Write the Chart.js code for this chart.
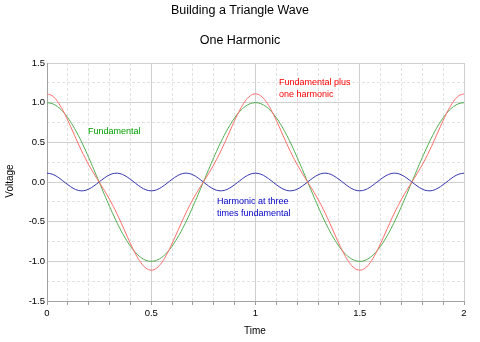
<!DOCTYPE html>
<html>
<head>
<meta charset="utf-8">
<script src="https://cdn.jsdelivr.net/npm/chart.js@4/dist/chart.umd.min.js"></script>
<style>
  html, body { margin: 0; padding: 0; background: #fff; }
  #wrap { width: 480px; height: 342px; }
</style>
</head>
<body>
<div id="wrap"><canvas id="chart" width="480" height="342"></canvas></div>
<script>
// --- données (pas de 0.025) ---
const times = [
  0, 0.025, 0.05, 0.075, 0.1, 0.125, 0.15, 0.175, 0.2, 0.225,
  0.25, 0.275, 0.3, 0.325, 0.35, 0.375, 0.4, 0.425, 0.45, 0.475,
  0.5, 0.525, 0.55, 0.575, 0.6, 0.625, 0.65, 0.675, 0.7, 0.725,
  0.75, 0.775, 0.8, 0.825, 0.85, 0.875, 0.9, 0.925, 0.95, 0.975,
  1, 1.025, 1.05, 1.075, 1.1, 1.125, 1.15, 1.175, 1.2, 1.225,
  1.25, 1.275, 1.3, 1.325, 1.35, 1.375, 1.4, 1.425, 1.45, 1.475,
  1.5, 1.525, 1.55, 1.575, 1.6, 1.625, 1.65, 1.675, 1.7, 1.725,
  1.75, 1.775, 1.8, 1.825, 1.85, 1.875, 1.9, 1.925, 1.95, 1.975, 2
];

const fundamental = [
  1, 0.988, 0.951, 0.891, 0.809, 0.707, 0.588, 0.454, 0.309, 0.156,
  0, -0.156, -0.309, -0.454, -0.588, -0.707, -0.809, -0.891, -0.951, -0.988,
  -1, -0.988, -0.951, -0.891, -0.809, -0.707, -0.588, -0.454, -0.309, -0.156,
  0, 0.156, 0.309, 0.454, 0.588, 0.707, 0.809, 0.891, 0.951, 0.988,
  1, 0.988, 0.951, 0.891, 0.809, 0.707, 0.588, 0.454, 0.309, 0.156,
  0, -0.156, -0.309, -0.454, -0.588, -0.707, -0.809, -0.891, -0.951, -0.988,
  -1, -0.988, -0.951, -0.891, -0.809, -0.707, -0.588, -0.454, -0.309, -0.156,
  0, 0.156, 0.309, 0.454, 0.588, 0.707, 0.809, 0.891, 0.951, 0.988, 1
];

const harmonic = [
  0.111, 0.099, 0.065, 0.017, -0.034, -0.078, -0.106, -0.110, -0.090, -0.050,
  0, 0.050, 0.090, 0.110, 0.106, 0.078, 0.034, -0.017, -0.065, -0.099,
  -0.111, -0.099, -0.065, -0.017, 0.034, 0.078, 0.106, 0.110, 0.090, 0.050,
  0, -0.050, -0.090, -0.110, -0.106, -0.078, -0.034, 0.017, 0.065, 0.099,
  0.111, 0.099, 0.065, 0.017, -0.034, -0.078, -0.106, -0.110, -0.090, -0.050,
  0, 0.050, 0.090, 0.110, 0.106, 0.078, 0.034, -0.017, -0.065, -0.099,
  -0.111, -0.099, -0.065, -0.017, 0.034, 0.078, 0.106, 0.110, 0.090, 0.050,
  0, -0.050, -0.090, -0.110, -0.106, -0.078, -0.034, 0.017, 0.065, 0.099, 0.111
];

const combined = [
  1.111, 1.087, 1.016, 0.908, 0.775, 0.629, 0.482, 0.344, 0.219, 0.106,
  0, -0.106, -0.219, -0.344, -0.482, -0.629, -0.775, -0.908, -1.016, -1.087,
  -1.111, -1.087, -1.016, -0.908, -0.775, -0.629, -0.482, -0.344, -0.219, -0.106,
  0, 0.106, 0.219, 0.344, 0.482, 0.629, 0.775, 0.908, 1.016, 1.087,
  1.111, 1.087, 1.016, 0.908, 0.775, 0.629, 0.482, 0.344, 0.219, 0.106,
  0, -0.106, -0.219, -0.344, -0.482, -0.629, -0.775, -0.908, -1.016, -1.087,
  -1.111, -1.087, -1.016, -0.908, -0.775, -0.629, -0.482, -0.344, -0.219, -0.106,
  0, 0.106, 0.219, 0.344, 0.482, 0.629, 0.775, 0.908, 1.016, 1.087, 1.111
];

const xMajorLabels = ['0', '0.5', '1', '1.5', '2'];
const yMajorLabels = ['-1.5', '-1.0', '-0.5', '0.0', '0.5', '1.0', '1.5'];

const toPoints = vals => vals.map((v, i) => ({ x: times[i], y: v }));
const isMajor = v => Math.abs(v * 2 - Math.round(v * 2)) < 1e-6;

const tickFont = { family: "'Liberation Sans', Arial, sans-serif", size: 9.5 };

// --- textes : titres, axes, annotations ---
const textPlugin = {
  id: 'texts',
  afterDraw(chart) {
    const c = chart.ctx;
    c.save();
    c.textBaseline = 'middle';
    c.fillStyle = '#000';
    c.textAlign = 'center';
    c.font = "12.5px 'Liberation Sans', Arial, sans-serif";
    c.fillText('Building a Triangle Wave', 240, 11);
    c.fillText('One Harmonic', 240, 41);

    c.font = "10px 'Liberation Sans', Arial, sans-serif";
    c.fillText('Time', 255, 331);
    c.save();
    c.translate(10, 181);
    c.rotate(-Math.PI / 2);
    c.fillText('Voltage', 0, 0);
    c.restore();

    c.textAlign = 'left';
    c.font = "9px 'Liberation Sans', Arial, sans-serif";
    c.fillStyle = '#00a000';
    c.fillText('Fundamental', 88, 132);
    c.fillStyle = '#ff0000';
    c.fillText('Fundamental plus', 279, 83);
    c.fillText('one harmonic', 279, 95);
    c.fillStyle = '#0000c8';
    c.fillText('Harmonic at three', 217, 202);
    c.fillText('times fundamental', 217, 214);
    c.restore();
  }
};

new Chart(document.getElementById('chart'), {
  type: 'line',
  data: {
    datasets: [
      { label: 'Fundamental plus one harmonic', data: toPoints(combined), borderColor: '#ff6a6a', order: 1 },
      { label: 'Fundamental', data: toPoints(fundamental), borderColor: '#4fae4f', order: 2 },
      { label: 'Harmonic', data: toPoints(harmonic), borderColor: '#3535b0', order: 3 }
    ]
  },
  options: {
    responsive: false,
    animation: false,
    layout: { padding: 0 },
    elements: {
      line: { borderWidth: 1, tension: 0.4, fill: false },
      point: { radius: 0 }
    },
    plugins: {
      legend: { display: false },
      tooltip: { enabled: false },
      title: { display: false }
    },
    scales: {
      x: {
        type: 'linear', position: 'bottom', min: 0, max: 2,
        afterFit: s => { s.height = 41; },
        ticks: {
          stepSize: 0.1, autoSkip: false, maxRotation: 0, padding: 3,
          color: '#000', font: tickFont,
          callback: v => isMajor(v) ? xMajorLabels[Math.round(v * 2)] : ''
        },
        grid: {
          color: ctx => isMajor(ctx.tick.value) ? '#cfcfcf' : 'rgba(0,0,0,0)',
          tickColor: '#a0a0a0', tickLength: 4
        },
        border: { color: '#a0a0a0' }
      },
      xMinor: {
        type: 'linear', position: 'top', min: 0, max: 2,
        afterFit: s => { s.height = 63; },
        ticks: { display: false, stepSize: 0.1, autoSkip: false },
        grid: {
          color: ctx => isMajor(ctx.tick.value) ? 'rgba(0,0,0,0)' : '#e2e2e2',
          drawTicks: false
        },
        border: { display: false, dash: [3, 2] }
      },
      y: {
        type: 'linear', position: 'left', min: -1.5, max: 1.5,
        afterFit: s => { s.width = 47; },
        ticks: {
          stepSize: 0.25, autoSkip: false, padding: 2,
          color: '#000', font: tickFont,
          callback: v => isMajor(v) ? yMajorLabels[Math.round(v * 2) + 3] : ''
        },
        grid: {
          color: ctx => isMajor(ctx.tick.value) ? '#cfcfcf' : 'rgba(0,0,0,0)',
          drawTicks: false
        },
        border: { color: '#a0a0a0' }
      },
      yMinor: {
        type: 'linear', position: 'right', min: -1.5, max: 1.5,
        afterFit: s => { s.width = 16; },
        ticks: { display: false, stepSize: 0.25, autoSkip: false },
        grid: {
          color: ctx => isMajor(ctx.tick.value) ? 'rgba(0,0,0,0)' : '#e2e2e2',
          drawTicks: false
        },
        border: { display: false, dash: [3, 2] }
      }
    }
  },
  plugins: [textPlugin]
});
</script>
</body>
</html>
